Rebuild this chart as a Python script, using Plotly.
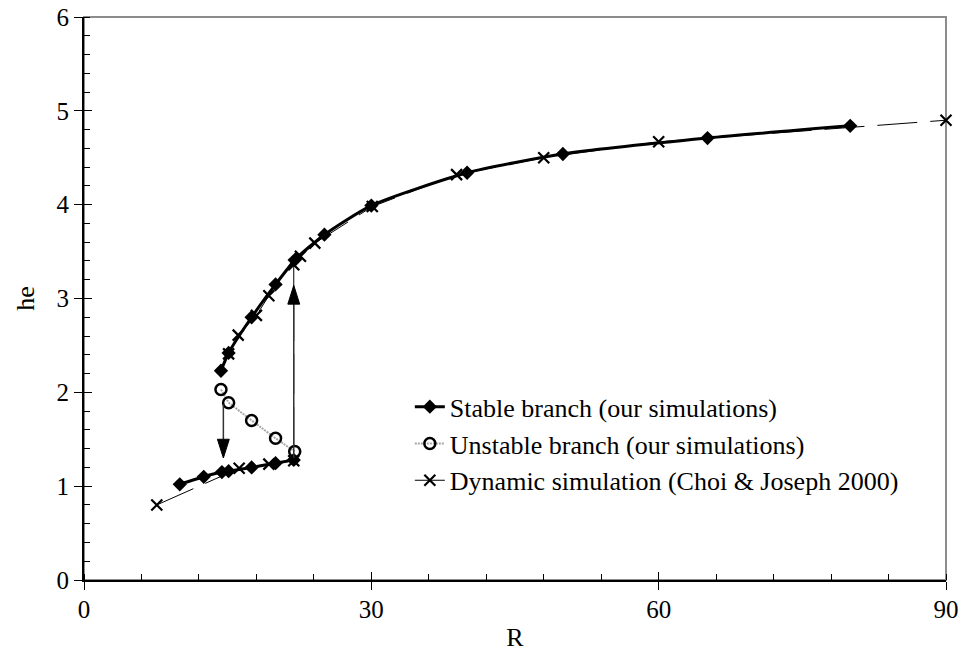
import plotly.graph_objects as go

# ---------------- data ----------------
stable_R = [10.0, 12.5, 14.4, 15.1, 17.5, 20.0, 21.9, None,
            14.3, 15.1, 17.5, 20.0, 22.1, 25.1, 30.0, 40.0, 50.0, 65.1, 80.0]
stable_he = [1.02, 1.10, 1.15, 1.16, 1.20, 1.245, 1.28, None,
             2.23, 2.42, 2.80, 3.15, 3.42, 3.68, 3.99, 4.34, 4.54, 4.71, 4.84]

unstable_R = [14.3, 15.1, 17.5, 20.0, 22.0]
unstable_he = [2.03, 1.89, 1.70, 1.51, 1.37]

dyn_R = [7.6, 16.2, 19.3, 21.9, 21.9, 22.6, 24.1, 30.1, 38.9, 48.0, 60.0, 90.0,
         None, 15.1, 16.1, 18.0, 19.3]
dyn_he = [0.80, 1.19, 1.235, 1.27, 3.36, 3.45, 3.59, 3.98, 4.32, 4.50, 4.67, 4.90,
          None, 2.41, 2.61, 2.82, 3.03]

# arrows (jump directions): position R, start he, tip he
arrow_R = [14.55, 21.9]
arrow_from = [1.87, 1.30]
arrow_to = [1.30, 3.14]

x_ticks = [0, 30, 60, 90]
y_ticks = [0, 1, 2, 3, 4, 5, 6]

FONT = "Liberation Serif"

fig = go.Figure()

fig.add_trace(go.Scatter(
    x=dyn_R, y=dyn_he, mode="lines+markers",
    name="Dynamic simulation (Choi & Joseph 2000)",
    line=dict(color="black", width=1, dash="40px,13px"),
    marker=dict(symbol="x-thin", size=11, line=dict(color="black", width=2.2)),
    cliponaxis=False,
))
fig.add_trace(go.Scatter(
    x=unstable_R, y=unstable_he, mode="lines+markers",
    name="Unstable branch (our simulations)",
    line=dict(color="#a8a8a8", width=2, dash="2px,1px"),
    marker=dict(symbol="circle-open", size=11, color="black", line=dict(color="black", width=2.5)),
))
fig.add_trace(go.Scatter(
    x=stable_R, y=stable_he, mode="lines+markers",
    name="Stable branch (our simulations)",
    line=dict(color="black", width=3, shape="spline", smoothing=0.6),
    marker=dict(symbol="diamond", size=11, color="black"),
    connectgaps=False,
))
# empty trace so overlay axes (inner half of crossing ticks) get drawn
fig.add_trace(go.Scatter(x=[], y=[], xaxis="x2", yaxis="y2", showlegend=False, hoverinfo="skip"))

# arrows as shapes built from arrow data
head_len = 0.20   # in he units
head_half = 0.62  # in R units
for r, a, b in zip(arrow_R, arrow_from, arrow_to):
    s = 1 if b > a else -1
    base = b - s * head_len
    fig.add_shape(type="line", x0=r, x1=r, y0=a, y1=base, xref="x", yref="y",
                  line=dict(color="#333333", width=1.5))
    fig.add_shape(type="path", xref="x", yref="y",
                  path=f"M{r - head_half},{base} L{r + head_half},{base} L{r},{b} Z",
                  fillcolor="black", line=dict(color="black", width=1))

# gray frame (top/right)
fig.add_shape(type="rect", xref="paper", yref="paper", x0=0, x1=1, y0=0, y1=1,
              line=dict(color="#8c8c8c", width=2), layer="below")

tickfont = dict(family=FONT, size=25, color="black")
fig.update_layout(
    width=962, height=656,
    margin=dict(l=84, r=16, t=17, b=76, autoexpand=False),
    paper_bgcolor="white", plot_bgcolor="white",
    font=dict(family=FONT, size=25, color="black"),
    showlegend=True,
    legend=dict(
        x=0.378, y=0.242, xanchor="left", yanchor="middle",
        bgcolor="rgba(0,0,0,0)", font=dict(family=FONT, size=26, color="black"),
        traceorder="reversed",
    ),
    xaxis=dict(
        range=[0, 90], tickmode="array", tickvals=x_ticks, ticktext=[str(v) for v in x_ticks],
        ticks="outside", ticklen=8, tickwidth=1, tickcolor="black",
        minor=dict(tickmode="linear", tick0=0, dtick=6, ticks="inside", ticklen=6,
                   tickwidth=1, tickcolor="black", showgrid=False),
        showline=True, linecolor="black", linewidth=2, automargin=False,
        showgrid=False, zeroline=False, tickfont=tickfont, ticklabelstandoff=-2,
        title=dict(text="R", font=dict(family=FONT, size=26), standoff=6),
    ),
    yaxis=dict(
        range=[0, 6], tickmode="array", tickvals=y_ticks, ticktext=[str(v) for v in y_ticks],
        ticks="outside", ticklen=8, tickwidth=1, tickcolor="black",
        minor=dict(tickmode="linear", tick0=0, dtick=0.2, ticks="inside", ticklen=6,
                   tickwidth=1, tickcolor="black", showgrid=False),
        showline=True, linecolor="black", linewidth=2, automargin=False,
        showgrid=False, zeroline=False, tickfont=tickfont,
        title=dict(text="he", font=dict(family=FONT, size=26), standoff=14),
    ),
    xaxis2=dict(overlaying="x", anchor="y", range=[0, 90], tickmode="array", tickvals=x_ticks,
                ticks="inside", ticklen=8, tickcolor="black", showticklabels=False,
                showgrid=False, zeroline=False, showline=False, automargin=False),
    yaxis2=dict(overlaying="y", anchor="x", range=[0, 6], tickmode="array", tickvals=y_ticks,
                ticks="inside", ticklen=8, tickcolor="black", showticklabels=False,
                showgrid=False, zeroline=False, showline=False, automargin=False),
)

fig.write_html("out.html")
